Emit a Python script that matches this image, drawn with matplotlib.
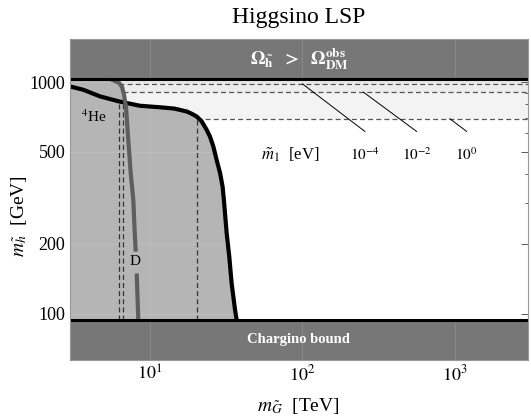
import matplotlib
matplotlib.use("Agg")
import matplotlib.pyplot as plt
from matplotlib.ticker import LogLocator, FixedLocator, FixedFormatter, NullFormatter
import numpy as np

plt.rcParams['font.family'] = ['Liberation Serif', 'DejaVu Serif']
plt.rcParams['mathtext.fontset'] = 'stix'

# ---- data ----
x_range = [3.0, 3000.0]
y_range = [63.0, 1530.0]
omega_bound = 1030.0      # Omega_h > Omega_DM line
chargino_bound = 94.0     # chargino bound line

# 4He constraint (black curve)
he_x = [3.0, 3.67, 4.72, 6.28, 8.62, 11.7, 14.5, 17.5, 18.8, 20.3, 21.9, 23.6, 24.8,
        26.1, 27.4, 28.9, 30.0, 30.6, 31.9, 33.2, 34.4, 36.2, 37.1]
he_y = [957, 926, 867, 825, 790, 778, 768, 746, 730, 710, 676, 622, 582,
        527, 462, 404, 354, 310, 223, 176, 135, 104, 94]

# D constraint (gray curve), split around the label
d_x_upper = [5.49, 5.92, 6.31, 6.58, 6.78, 6.91, 6.98, 7.23, 7.50, 7.80, 7.97, 8.09]
d_y_upper = [1030, 1010, 990, 952, 881, 812, 785, 563, 404, 310, 223, 185]
d_x_lower = [8.21, 8.41]
d_y_lower = [149, 94]

# gravitino-mass dashed bounds for m1 = 1e-4, 1e-2, 1e0 eV
m1_labels = [r'$10^{-4}$', r'$10^{-2}$', r'$10^{0}$']
m1_x = [6.31, 6.70, 20.4]
m1_y = [983, 905, 694]
m1_vtop = [800, 800, 694]
band_colors = ['#e6e6e6', '#ececec', '#f3f3f3']

# pointer lines for the labels
ptr_start_x = [100, 251, 927]
ptr_end_x = [257, 561, 1194]
ptr_end_y = 612
label_y = 485

fig = plt.figure(figsize=(5.31, 4.18), dpi=100)
ax = fig.add_axes([70/531, 1-360/418, 457.7/531, (360-39.3)/418])
ax.set_xscale('log')
ax.set_yscale('log')
ax.set_xlim(*x_range)
ax.set_ylim(*y_range)
ax.set_facecolor('white')

# light bands
levels = [omega_bound] + m1_y
for i in range(3):
    ax.fill_between(x_range, levels[i+1], levels[i], color=band_colors[i], lw=0, zorder=1)

# BBN excluded region
excl = '#b5b5b5'
ax.fill_between(he_x, chargino_bound, he_y, color=excl, lw=0, zorder=2)
d_all_x = d_x_upper + d_x_lower
d_all_y = d_y_upper + d_y_lower
ax.fill_betweenx(d_all_y, x_range[0], d_all_x, color=excl, lw=0, zorder=2)

# dark bands
dark = '#777777'
ax.fill_between(x_range, omega_bound, y_range[1], color=dark, lw=0, zorder=3)
ax.fill_between(x_range, y_range[0], chargino_bound, color=dark, lw=0, zorder=3)

# faint grid
for gx in [10, 100, 1000]:
    ax.axvline(gx, color='white', alpha=0.12, lw=0.8, zorder=3.5)
for gy in [100, 200, 500, 1000]:
    ax.axhline(gy, color='white', alpha=0.12, lw=0.8, zorder=3.5)

# boundary lines
ax.axhline(omega_bound, color='black', lw=2.2, zorder=6)
ax.axhline(chargino_bound, color='black', lw=2.2, zorder=6)

# dashed bounds
for xv, yv, vt in zip(m1_x, m1_y, m1_vtop):
    ax.plot([xv, x_range[1]], [yv, yv], ls=(0, (4, 2.5)), color='#555555', lw=0.9, zorder=4)
    ax.plot([xv, xv], [chargino_bound, vt], ls=(0, (4, 2.5)), color='#333333', lw=0.9, zorder=4)

# pointer lines and labels
for sx, ex, yv, lab in zip(ptr_start_x, ptr_end_x, m1_y, m1_labels):
    ax.plot([sx, ex], [yv, ptr_end_y], color='black', lw=0.7, zorder=4)
    ax.text(ex, label_y, lab, ha='center', va='center', fontsize=11, zorder=7)
ax.text(83, label_y, r'$\tilde{m}_1$  [eV]', ha='center', va='center', fontsize=12, zorder=7)

# curves
ax.plot(he_x, he_y, color='black', lw=3.0, zorder=5, solid_capstyle='butt', solid_joinstyle='round')
ax.plot(d_x_upper, d_y_upper, color='#5e5e5e', lw=3.0, zorder=5, solid_capstyle='butt', solid_joinstyle='round')
ax.plot(d_x_lower, d_y_lower, color='#5e5e5e', lw=3.0, zorder=5, solid_capstyle='butt')
ax.text(8.05, 167, 'D', ha='center', va='center', fontsize=11, zorder=7)
ax.text(4.3, 710, r'$^4$He', ha='center', va='center', fontsize=11, zorder=7)

# band labels
xc = np.sqrt(x_range[0]*x_range[1])
ax.text(xc, 1261, r'$\mathbf{\Omega_{\tilde{h}}\ \ >\ \ \Omega^{obs}_{DM}}$', color='white',
        ha='center', va='center', fontsize=13.5, zorder=7)
ax.text(xc, 77.4, 'Chargino bound', color='white', fontweight='bold',
        ha='center', va='center', fontsize=10.5, zorder=7)

# ticks
ax.yaxis.set_major_locator(FixedLocator([100, 200, 500, 1000]))
ax.yaxis.set_major_formatter(FixedFormatter(['100', '200', '500', '1000']))
ax.yaxis.set_minor_locator(LogLocator(base=10, subs=np.arange(1, 10)))
ax.yaxis.set_minor_formatter(NullFormatter())
ax.xaxis.set_major_locator(FixedLocator([10, 100, 1000]))
ax.xaxis.set_major_formatter(FixedFormatter([r'$10^1$', r'$10^2$', r'$10^3$']))
ax.xaxis.set_minor_locator(LogLocator(base=10, subs=np.arange(2, 10)))
ax.xaxis.set_minor_formatter(NullFormatter())
ax.tick_params(which='both', direction='in', top=True, right=True, labelsize=13, color='#444444')
ax.tick_params(which='major', length=5, width=0.7)
ax.tick_params(which='minor', length=2.5, width=0.6)
for s in ax.spines.values():
    s.set_color('#999999')
    s.set_linewidth(0.8)
    s.set_zorder(8)

ax.set_xlabel(r'$m_{\tilde{G}}$  [TeV]', fontsize=14, labelpad=8)
ax.set_ylabel(r'$m_{\tilde{h}}$  [GeV]', fontsize=14)
ax.yaxis.set_label_coords(-0.09, 0.45)
ax.set_title('Higgsino LSP', fontsize=17, pad=12)

fig.savefig('out.png', dpi=100)
